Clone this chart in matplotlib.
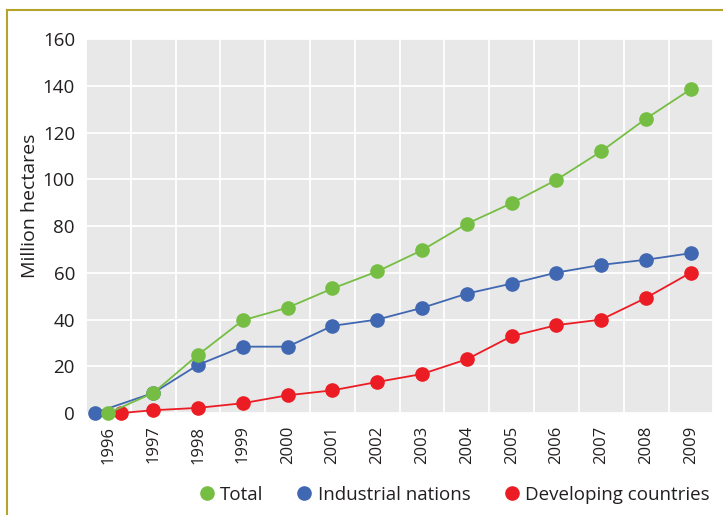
import numpy as np
import matplotlib.pyplot as plt
from matplotlib.lines import Line2D

plt.rcParams['font.family'] = ['Open Sans', 'DejaVu Sans']

# data
years = ['1996', '1997', '1998', '1999', '2000', '2001', '2002',
         '2003', '2004', '2005', '2006', '2007', '2008', '2009']
total = [0, 8.6, 24.9, 39.7, 45.1, 53.3, 60.6, 69.7, 81.0, 89.8, 99.8, 112.0, 126.0, 138.6]
industrial = [0, 8.6, 20.6, 28.4, 28.4, 37.3, 40.0, 45.0, 51.1, 55.4, 60.1, 63.4, 65.6, 68.4]
developing = [0, 1.2, 2.2, 4.2, 7.6, 9.7, 13.3, 16.7, 23.0, 32.9, 37.6, 40.0, 49.3, 60.1]

green = '#76BE43'
blue = '#4067B1'
red = '#EC1C24'

fig = plt.figure(figsize=(7.23, 5.15), dpi=100)
ax = fig.add_axes([0.119, 0.198, 0.8676, 0.726])
ax.set_facecolor('#E8E8E8')

x = np.arange(len(years), dtype=float)

# the 1996 points are nudged sideways so the three zeros don't hide each other
def shifted(dx):
    xs = x.copy()
    xs[0] += dx
    return xs

ax.plot(shifted(-0.31), industrial, color=blue, lw=1.3, marker='o', ms=9.5,
        zorder=3, clip_on=False)
ax.plot(shifted(0.28), developing, color=red, lw=1.3, marker='o', ms=9.5,
        zorder=3, clip_on=False)
ax.plot(x, total, color=green, lw=1.3, marker='o', ms=9.5, zorder=4, clip_on=False)

ax.set_xlim(-0.5, len(years) - 0.5)
ax.set_ylim(0, 160)
ax.set_yticks(np.arange(0, 161, 20))
ax.set_xticks(x)
ax.set_xticklabels(years, rotation=90)
ax.set_xticks(np.arange(-0.5, len(years), 1), minor=True)

ax.grid(axis='y', color='white', lw=1.3)
ax.grid(axis='x', which='minor', color='white', lw=1.3)
ax.set_axisbelow(True)
for s in ax.spines.values():
    s.set_visible(False)
ax.tick_params(axis='both', which='both', length=0)
ax.tick_params(axis='y', labelsize=13.5, pad=8, colors='#231F20')
ax.tick_params(axis='x', labelsize=12, pad=9, colors='#231F20')

ax.set_ylabel('Million hectares', fontsize=14, color='#231F20')
ax.yaxis.set_label_coords(-0.075, 0.553)

handles = [Line2D([], [], ls='none', marker='o', ms=9.5, color=c) for c in (green, blue, red)]
fig.legend(handles, ['Total', 'Industrial nations', 'Developing countries'],
           loc='center', bbox_to_anchor=(0.627, 0.039), ncol=3, frameon=False,
           fontsize=13.5, handletextpad=0.2, columnspacing=1.7, handlelength=1.0,
           labelcolor='#231F20')

# olive frame lines at top and left
fig.add_artist(Line2D([0.0097, 1.0], [0.981, 0.981], color='#B5A32C', lw=1.5))
fig.add_artist(Line2D([0.0097, 0.0097], [0.0, 0.981], color='#B5A32C', lw=1.5))

fig.savefig('out.png', dpi=100)
